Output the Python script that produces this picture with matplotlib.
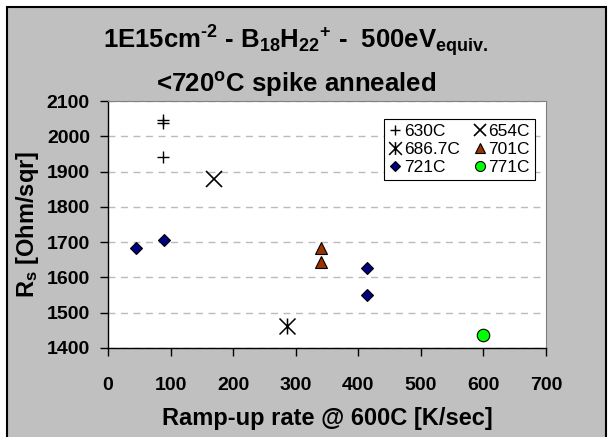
import matplotlib
matplotlib.use("Agg")
import matplotlib.pyplot as plt
from matplotlib.patches import Rectangle
from matplotlib.path import Path

plt.rcParams['font.family'] = ['Liberation Sans', 'DejaVu Sans']
plt.rcParams['mathtext.default'] = 'regular'

# data (ramp-up rate [K/s], Rs [Ohm/sqr])
x630 = [88, 88, 88]
y630 = [2046, 2037, 1940]
x654 = [170]
y654 = [1880]
x687 = [286]
y687 = [1463]
x701 = [340, 340]
y701 = [1684, 1643]
x721 = [45, 90, 414, 414]
y721 = [1683, 1705, 1627, 1551]
x771 = [600]
y771 = [1437]

xticks = [0, 100, 200, 300, 400, 500, 600, 700]
yticks = [1400, 1500, 1600, 1700, 1800, 1900, 2000, 2100]

# excel-style asterisk: an x with a vertical bar through it
star = Path([(-1, -1), (1, 1), (-1, 1), (1, -1), (0, -1), (0, 1)],
            [Path.MOVETO, Path.LINETO, Path.MOVETO, Path.LINETO, Path.MOVETO, Path.LINETO])

W, H = 610, 437
fig = plt.figure(figsize=(W / 100, H / 100), dpi=100, facecolor='white')

# grey chart area with black border
fig.patches.append(Rectangle((7 / W, -0.05), 599 / W, 1.05 - 7 / H, transform=fig.transFigure,
                             facecolor='#C0C0C0', edgecolor='black', lw=1.5, zorder=-5))

ax = fig.add_axes([108 / W, 1 - 348 / H, (546 - 108) / W, (348 - 101) / H])
ax.set_facecolor('white')

h1, = ax.plot(x630, y630, ls='none', marker='+', ms=9, mew=1.0, color='black')
h2, = ax.plot(x654, y654, ls='none', marker='x', ms=11.5, mew=1.2, color='black')
h3, = ax.plot(x687, y687, ls='none', marker=star, ms=11.5, mew=1.1, color='black')
h4, = ax.plot(x701, y701, ls='none', marker='^', ms=9, mew=0.8, mfc='#993300', mec='black')
h5, = ax.plot(x721, y721, ls='none', marker='D', ms=6.3, mew=0.8, mfc='#000080', mec='black')
h6, = ax.plot(x771, y771, ls='none', marker='o', ms=9, mew=0.8, mfc='#00FF00', mec='black')

ax.set_xlim(0, 700)
ax.set_ylim(1400, 2100)
ax.set_xticks(xticks)
ax.set_yticks(yticks)
ax.tick_params(direction='out', length=6, width=1, colors='black', labelsize=14)
ax.tick_params(axis='x', pad=15)
ax.tick_params(axis='y', pad=7)
for lbl in ax.get_xticklabels() + ax.get_yticklabels():
    lbl.set_fontweight('bold')

ax.yaxis.grid(True, color='#BBBBBB', ls=(0, (5, 4)), lw=1)
ax.set_axisbelow(True)
for s in ['top', 'right']:
    ax.spines[s].set_color('#808080')
for s in ['left', 'bottom']:
    ax.spines[s].set_color('black')
    ax.spines[s].set_linewidth(1)

ax.set_xlabel('Ramp-up rate @ 600C [K/sec]', fontsize=17, fontweight='bold', labelpad=9)
ax.set_ylabel('R$_s$ [Ohm/sqr]', fontsize=17, fontweight='bold', labelpad=4)

fig.text(296 / W, 1 - 48 / H,
         '1E15cm$^{\u20102}$ - B$_{18}$H$_{22}$$^{+}$ -  500eV$_{equiv.}$',
         ha='center', va='baseline', fontsize=18.5, fontweight='bold')
fig.text(296 / W, 1 - 92 / H, r'<720$^{o}$C spike annealed',
         ha='center', va='baseline', fontsize=18.5, fontweight='bold')

leg = ax.legend([h1, h3, h5, h2, h4, h6],
                ['630C', '686.7C', '721C', '654C', '701C', '771C'],
                ncol=2, loc='upper right', bbox_to_anchor=(535 / W, 1 - 119 / H),
                bbox_transform=fig.transFigure, borderaxespad=0, fontsize=12.5,
                frameon=True, fancybox=False, edgecolor='black', framealpha=1,
                handlelength=0.7, handletextpad=0.15, columnspacing=0.8,
                labelspacing=0.15, borderpad=0.3, markerscale=0.8)
leg.get_frame().set_linewidth(0.8)

fig.savefig('out.png', dpi=100, facecolor='white')
